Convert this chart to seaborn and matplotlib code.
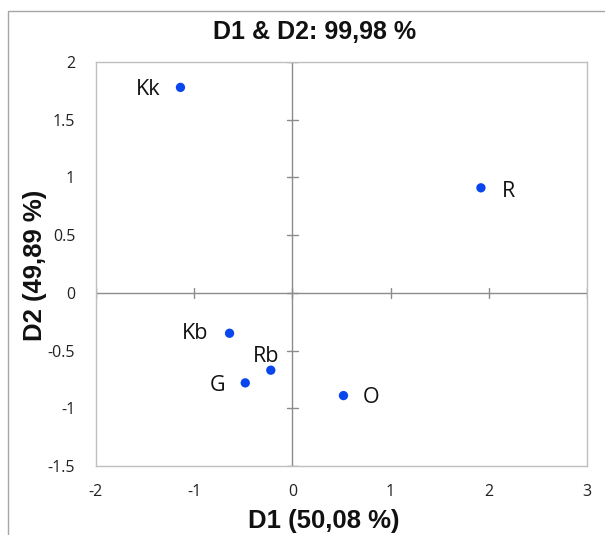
import matplotlib
matplotlib.use("Agg")
import matplotlib.pyplot as plt
import seaborn as sns
import pandas as pd
from matplotlib.patches import Rectangle

labels = ["Kk", "R", "Kb", "Rb", "G", "O"]
d1 = [-1.14, 1.92, -0.64, -0.22, -0.48, 0.52]
d2 = [1.78, 0.91, -0.35, -0.67, -0.78, -0.89]
x_ticks = [-2, -1, 0, 1, 2, 3]
y_ticks = [-1.5, -1, -0.5, 0, 0.5, 1, 1.5, 2]
y_tick_labels = ["-1.5", "-1", "-0.5", "0", "0.5", "1", "1.5", "2"]
title = "D1 & D2: 99,98 %"
xlabel = "D1 (50,08 %)"
ylabel = "D2 (49,89 %)"

df = pd.DataFrame({"label": labels, "D1": d1, "D2": d2})

sns.set_theme(style="white")
plt.rcParams["font.family"] = ["Liberation Sans", "DejaVu Sans"]

fig = plt.figure(figsize=(6.05, 5.35), dpi=100)
ax = fig.add_axes([96/605, 1-466/535, (587-96)/605, (466-62)/535])

sns.scatterplot(data=df, x="D1", y="D2", ax=ax, color="#0A46EE", s=45,
                edgecolor="none", zorder=5, legend=False)
ax.set_xlabel("")
ax.set_ylabel("")

ax.set_xlim(-2, 3)
ax.set_ylim(-1.5, 2)
ax.set_xticks(x_ticks)
ax.set_yticks(y_ticks)
ax.set_xticklabels([str(t) for t in x_ticks])
ax.set_yticklabels(y_tick_labels)
ax.tick_params(axis="both", length=0, labelsize=11.5, colors="#222222")
ax.tick_params(axis="x", pad=13)
ax.tick_params(axis="y", pad=15)
for lab in ax.get_xticklabels() + ax.get_yticklabels():
    lab.set_fontfamily(["Open Sans", "DejaVu Sans"])

for sp in ax.spines.values():
    sp.set_color("#BFBFBF")
    sp.set_linewidth(1.0)

# Zero axes with cross ticks
ax.axhline(0, color="#8C8C8C", lw=1.0, zorder=2)
ax.axvline(0, color="#8C8C8C", lw=1.0, zorder=2)
dx = 0.06
dy = 0.045
for yt in y_ticks:
    ax.plot([-dx, dx], [yt, yt], color="#8C8C8C", lw=1.0, zorder=2)
for xt in x_ticks:
    ax.plot([xt, xt], [-dy, dy], color="#8C8C8C", lw=1.0, zorder=2)

# Point labels (offsets in points)
offsets = {
    "Kk": (-23.5, -1.8),
    "R": (19.5, -2.5),
    "Kb": (-24.5, -0.5),
    "Rb": (-3.6, 9.5),
    "G": (-20, -1.8),
    "O": (20, -1.5),
}
for lab, x, y in zip(labels, d1, d2):
    ox, oy = offsets[lab]
    ax.annotate(lab, (x, y), xytext=(ox, oy), textcoords="offset points",
                ha="center", va="center", fontsize=15.5, color="#111111",
                fontfamily=["Open Sans", "DejaVu Sans"])

fig.text(315/605, 1-32/535, title, ha="center", va="center",
         fontsize=18, fontweight="bold", color="#111111")
fig.text(324/605, 1-521/535, xlabel, ha="center", va="center",
         fontsize=18.5, fontweight="bold", color="#111111")
fig.text(35/605, 1-265/535, ylabel, ha="center", va="center", rotation=90,
         fontsize=18.5, fontweight="bold", color="#111111")

# Outer chart frame
fig.patches.append(Rectangle((8/605, -0.05), 1.2, 1-11/535 + 0.05,
                             transform=fig.transFigure, fill=False,
                             edgecolor="#A6A6A6", lw=1.0))

fig.savefig("out.png", dpi=100)
